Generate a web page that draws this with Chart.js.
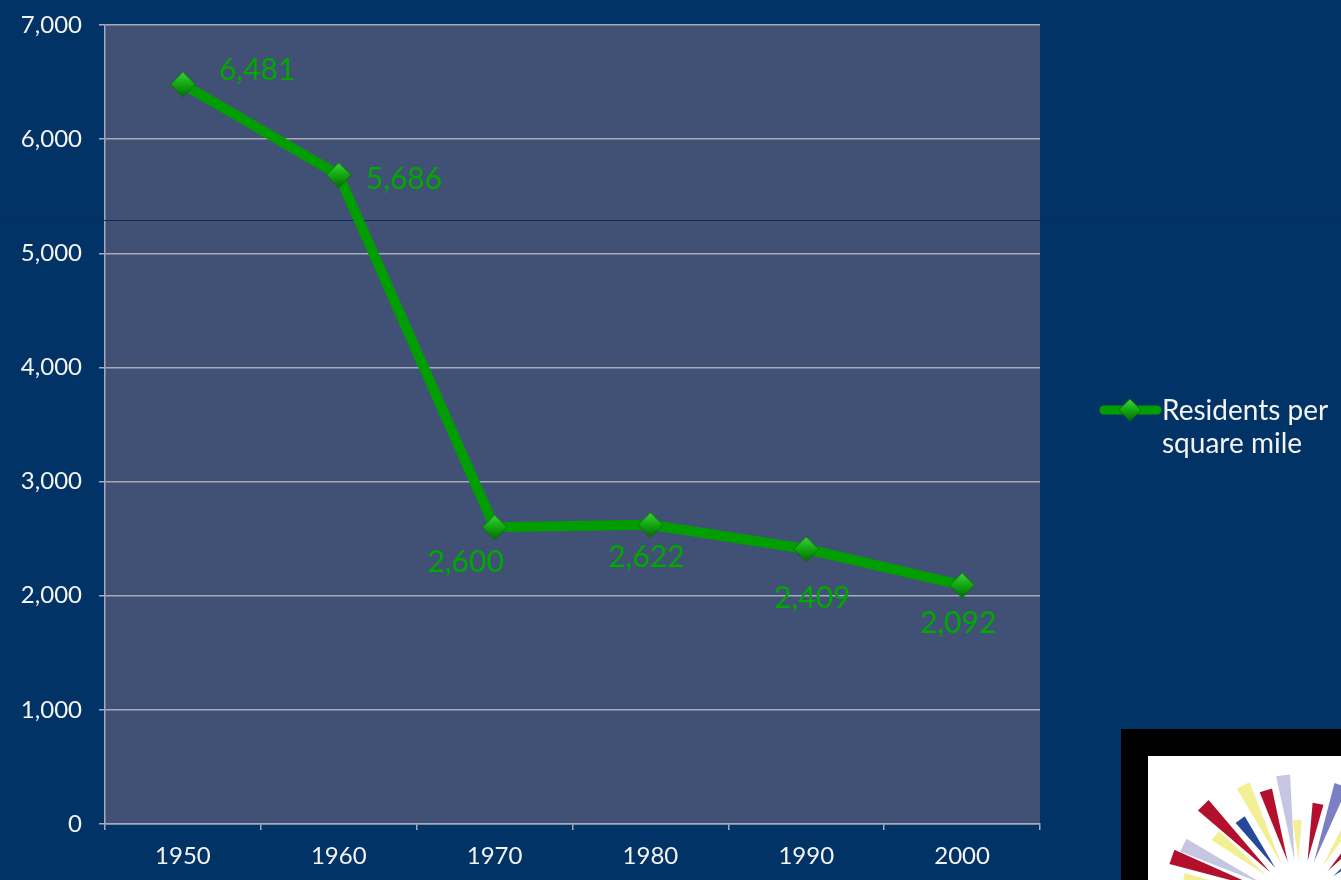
<!DOCTYPE html>
<html>
<head>
<meta charset="utf-8">
<script src="https://cdn.jsdelivr.net/npm/chart.js@4/dist/chart.umd.min.js"></script>
<style>
  html, body { margin: 0; padding: 0; background: #023366; overflow: hidden; }
  #wrap { width: 1341px; height: 880px; }
</style>
</head>
<body>
<div id="wrap"><canvas id="c" width="1341" height="880"></canvas></div>
<script>
// ---- data ----
const years = ['1950', '1960', '1970', '1980', '1990', '2000'];
const residentsPerSquareMile = [6481, 5686, 2600, 2622, 2409, 2092];
const seriesLabel = 'Residents per square mile';
const legendLines = ['Residents per', 'square mile'];
const yMin = 0, yMax = 7000, yStep = 1000;

// ---- style ----
const FONT = 'Lato, "Open Sans", "DejaVu Sans", sans-serif';
const GREEN = '#009e00';
const LABEL_GREEN = '#00a800';
const OUTER_BG = '#023366';
const PLOT_BG = '#415175';
const GRID = '#a6aabb';
const TEXT = '#f4f4f4';

// data label offsets (styling only): [dx, dy, align]
const labelPlacement = [
  [36, -14, 'left'],
  [27, 4, 'left'],
  [-29, 35, 'center'],
  [-4, 33, 'center'],
  [6, 49, 'center'],
  [-4, 38, 'center']
];

const bgPlugin = {
  id: 'bg',
  beforeDraw(chart) {
    const { ctx, chartArea: a } = chart;
    ctx.save();
    ctx.fillStyle = OUTER_BG;
    ctx.fillRect(0, 0, chart.width, chart.height);
    ctx.fillStyle = PLOT_BG;
    ctx.fillRect(a.left, a.top, a.right - a.left, a.bottom - a.top);
    ctx.restore();
  },
  beforeDatasetsDraw(chart) {
    // thin dark rule crossing the slide
    const { ctx } = chart;
    ctx.save();
    ctx.strokeStyle = '#0c2a55';
    ctx.lineWidth = 1;
    ctx.beginPath();
    ctx.moveTo(0, 220.5);
    ctx.lineTo(chart.width, 220.5);
    ctx.stroke();
    ctx.restore();
  }
};

const labelPlugin = {
  id: 'valueLabels',
  afterDatasetsDraw(chart) {
    const { ctx } = chart;
    const meta = chart.getDatasetMeta(0);
    const data = chart.data.datasets[0].data;
    ctx.save();
    ctx.font = '30px ' + FONT;
    ctx.fillStyle = LABEL_GREEN;
    ctx.textBaseline = 'middle';
    meta.data.forEach((pt, i) => {
      const p = labelPlacement[i];
      ctx.textAlign = p[2];
      ctx.fillText(data[i].toLocaleString('en-US'), pt.x + p[0], pt.y + p[1]);
    });
    ctx.restore();
  }
};

function drawDiamond(ctx, x, y, r) {
  const g = ctx.createLinearGradient(x, y - r, x, y + r);
  g.addColorStop(0, '#3fd23f');
  g.addColorStop(0.5, '#12a812');
  g.addColorStop(1, '#066b06');
  ctx.fillStyle = g;
  ctx.strokeStyle = '#0a6a0a';
  ctx.lineWidth = 1;
  ctx.beginPath();
  ctx.moveTo(x, y - r);
  ctx.lineTo(x + r, y);
  ctx.lineTo(x, y + r);
  ctx.lineTo(x - r, y);
  ctx.closePath();
  ctx.fill();
  ctx.stroke();
}

const legendPlugin = {
  id: 'sideLegend',
  afterDraw(chart) {
    const { ctx } = chart;
    ctx.save();
    // legend line sample
    ctx.strokeStyle = GREEN;
    ctx.lineWidth = 9;
    ctx.lineCap = 'round';
    ctx.beginPath();
    ctx.moveTo(1104, 410);
    ctx.lineTo(1157, 410);
    ctx.stroke();
    drawDiamond(ctx, 1130, 410, 11);
    ctx.fillStyle = TEXT;
    ctx.font = '28px ' + FONT;
    ctx.textAlign = 'left';
    ctx.textBaseline = 'alphabetic';
    ctx.fillText(legendLines[0], 1162, 420);
    ctx.fillText(legendLines[1], 1162, 453);

    // logo
    ctx.fillStyle = '#000000';
    ctx.fillRect(1121, 729, 220, 151);
    ctx.fillStyle = '#ffffff';
    ctx.fillRect(1148, 756, 193, 124);
    const cx = 1300, cy = 902;
    const rays = [
      [-169, 119, '#f3ef95'],
      [-160.6, 136, '#b3102e'],
      [-154, 130, '#c6c6e2'],
      [-141.8, 108, '#f3ef95'],
      [-135, 137, '#b3102e'],
      [-126, 102, '#25489a'],
      [-116, 130, '#f3ef95'],
      [-107, 117, '#b3102e'],
      [-97.6, 128, '#c6c6e2'],
      [-92, 82, '#f3ef95'],
      [-79.6, 100, '#b3102e'],
      [-70.7, 124, '#7b7fc4'],
      [-58, 110, '#f3ef95'],
      [-48, 100, '#b3102e'],
      [-38, 95, '#25489a']
    ];
    rays.forEach(([deg, r2, col]) => {
      const a = deg * Math.PI / 180;
      const r1 = 42, hw = 0.055;
      ctx.fillStyle = col;
      ctx.beginPath();
      ctx.moveTo(cx + r1 * Math.cos(a), cy + r1 * Math.sin(a));
      ctx.lineTo(cx + r2 * Math.cos(a - hw), cy + r2 * Math.sin(a - hw));
      ctx.lineTo(cx + r2 * Math.cos(a + hw), cy + r2 * Math.sin(a + hw));
      ctx.closePath();
      ctx.fill();
    });
    ctx.restore();
  }
};

// custom diamond point style via canvas
function makePointImage() {
  const c = document.createElement('canvas');
  c.width = 28; c.height = 28;
  const x = c.getContext('2d');
  drawDiamond(x, 14, 14, 12.5);
  return c;
}

new Chart(document.getElementById('c'), {
  type: 'line',
  data: {
    labels: years,
    datasets: [{
      label: seriesLabel,
      data: residentsPerSquareMile,
      borderColor: GREEN,
      borderWidth: 10,
      tension: 0,
      pointStyle: makePointImage(),
      pointRadius: 13,
      pointHoverRadius: 13,
      backgroundColor: GREEN
    }]
  },
  options: {
    responsive: false,
    animation: false,
    devicePixelRatio: 1,
    layout: { padding: { left: 0, top: 25, right: 301, bottom: 0 } },
    plugins: {
      legend: { display: false },
      tooltip: { enabled: false }
    },
    scales: {
      x: {
        offset: true,
        grid: {
          offset: true,
          drawOnChartArea: false,
          drawTicks: true,
          tickLength: 6,
          color: GRID,
          lineWidth: 1.5
        },
        border: { display: true, color: GRID, width: 1.5 },
        ticks: { color: TEXT, font: { family: FONT, size: 24 }, padding: 12 },
        afterFit(s) { s.height = 56; s.paddingLeft = 0; s.paddingRight = 0; }
      },
      y: {
        min: yMin,
        max: yMax,
        ticks: {
          stepSize: yStep,
          color: TEXT,
          font: { family: FONT, size: 24 },
          padding: 17,
          callback: v => v.toLocaleString('en-US')
        },
        grid: { color: GRID, lineWidth: 1.5, drawTicks: true, tickLength: 6 },
        border: { display: true, color: GRID, width: 1.5 },
        afterFit(s) { s.width = 105; s.paddingTop = 0; s.paddingBottom = 0; }
      }
    }
  },
  plugins: [bgPlugin, labelPlugin, legendPlugin]
});
</script>
</body>
</html>
